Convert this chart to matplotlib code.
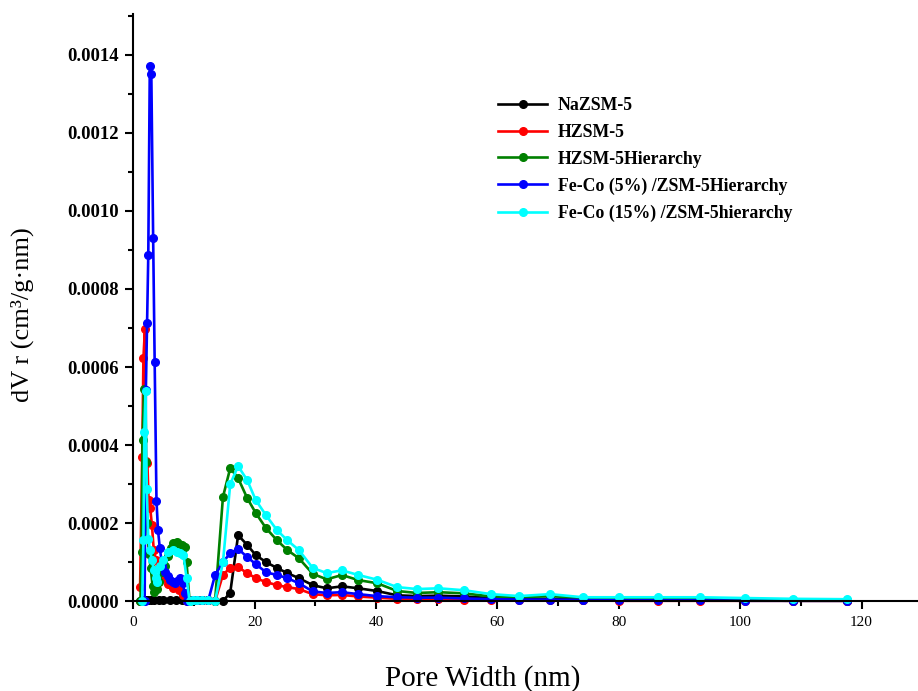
import numpy as np
import matplotlib
matplotlib.use("Agg")
import matplotlib.pyplot as plt
from matplotlib.ticker import MultipleLocator, FormatStrFormatter

plt.rcParams['font.family'] = ['Liberation Serif', 'DejaVu Serif']

# BJH pore size distribution, dV/dr vs pore width (nm)
labels = ['NaZSM-5', 'HZSM-5', 'HZSM-5Hierarchy',
          'Fe-Co (5%) /ZSM-5Hierarchy', 'Fe-Co (15%) /ZSM-5hierarchy']
colors = ['#000000', '#ff0000', '#008000', '#0000ff', '#00ffff']

# shared mesopore grid
meso_x = [13.5, 14.8, 16.0, 17.3, 18.8, 20.2, 21.9, 23.7, 25.4, 27.3, 29.6,
          31.9, 34.4, 37.1, 40.2, 43.5, 46.8, 50.3, 54.5, 59.0, 63.6, 68.7,
          74.1, 80.1, 86.5, 93.4, 100.8, 108.7, 117.6]
gap_x = [9.8, 10.6, 11.4, 12.4]

# micropore part, per sample
na_micro_x = [1.2, 1.5, 1.8, 2.1, 2.5, 3.0, 3.5, 4.2, 5.0, 6.0, 7.0, 8.0, 9.0]
na_micro_y = [0, 4e-6, 4e-6, 4e-6, 4e-6, 4e-6, 4e-6, 4e-6, 4e-6, 4e-6, 4e-6, 4e-6, 2e-6]
na_meso_y = [0, 0, 2.2e-5, 1.69e-4, 1.44e-4, 1.18e-4, 1.0e-4, 8.5e-5, 7.2e-5, 5.9e-5,
             4.1e-5, 3.3e-5, 3.8e-5, 3.3e-5, 2.6e-5, 1.5e-5, 1.3e-5, 1.4e-5, 1.2e-5,
             8e-6, 6e-6, 6e-6, 4e-6, 3e-6, 3e-6, 2e-6, 2e-6, 1e-6, 1e-6]

h_micro_x = [1.15, 1.5, 1.7, 1.95, 2.15, 2.35, 2.55, 2.8, 3.1, 3.4, 3.8, 4.2,
             5.0, 5.8, 6.6, 7.5, 8.3, 8.8]
h_micro_y = [3.7e-5, 3.69e-4, 6.23e-4, 6.97e-4, 3.6e-4, 3.54e-4, 2.6e-4, 2.4e-4,
             1.95e-4, 1.31e-4, 1.05e-4, 8.8e-5, 6.0e-5, 4.5e-5, 3.5e-5, 2.8e-5,
             1.5e-5, 0]
h_meso_y = [0, 6.8e-5, 8.5e-5, 8.7e-5, 7.2e-5, 5.9e-5, 4.9e-5, 4.1e-5, 3.6e-5, 3.1e-5,
            1.8e-5, 1.5e-5, 1.6e-5, 1.2e-5, 9e-6, 6e-6, 5e-6, 5e-6, 4e-6, 3e-6,
            2e-6, 2e-6, 2e-6, 1e-6, 1e-6, 1e-6, 1e-6, 1e-6, 1e-6]

hh_micro_x = [1.2, 1.4, 1.55, 1.8, 2.05, 2.3, 2.6, 2.9, 3.2, 3.5, 3.9, 4.3, 4.8,
              5.3, 5.8, 6.2, 6.6, 7.2, 7.6, 8.0, 8.5, 8.8, 9.3]
hh_micro_y = [0, 1.26e-4, 4.13e-4, 5.43e-4, 3.56e-4, 2.0e-4, 1.2e-4, 8.5e-5, 4e-5,
              2.3e-5, 3e-5, 5e-5, 7.5e-5, 9e-5, 1.15e-4, 1.35e-4, 1.49e-4, 1.52e-4,
              1.47e-4, 1.45e-4, 1.39e-4, 1.0e-4, 0]
hh_meso_y = [0, 2.67e-4, 3.41e-4, 3.15e-4, 2.64e-4, 2.26e-4, 1.87e-4, 1.56e-4, 1.31e-4,
             1.10e-4, 7.0e-5, 5.6e-5, 6.7e-5, 5.4e-5, 4.6e-5, 2.6e-5, 2.1e-5, 2.3e-5,
             2.0e-5, 1.2e-5, 1.0e-5, 1.3e-5, 8e-6, 7e-6, 7e-6, 6e-6, 4e-6, 3e-6, 2e-6]

fc5_micro_x = [1.9, 2.1, 2.3, 2.5, 2.75, 3.0, 3.3, 3.55, 3.85, 4.1, 4.4, 4.8, 5.3,
               5.7, 6.1, 6.5, 6.9, 7.3, 7.7, 8.2, 8.5, 8.9]
fc5_micro_y = [0, 5.4e-4, 7.12e-4, 8.87e-4, 1.372e-3, 1.352e-3, 9.31e-4, 6.14e-4,
               2.57e-4, 1.82e-4, 1.36e-4, 9e-5, 7.5e-5, 6.5e-5, 5.4e-5, 5.0e-5,
               4.6e-5, 5.2e-5, 5.9e-5, 4.6e-5, 2.0e-5, 0]
fc5_meso_y = [6.7e-5, 1.0e-4, 1.23e-4, 1.34e-4, 1.13e-4, 9.5e-5, 7.4e-5, 6.7e-5,
              5.9e-5, 4.6e-5, 2.5e-5, 2.1e-5, 2.3e-5, 1.8e-5, 1.3e-5, 1.0e-5, 9e-6,
              9e-6, 7e-6, 5e-6, 4e-6, 4e-6, 3e-6, 2e-6, 2e-6, 2e-6, 1e-6, 1e-6, 1e-6]

fc15_micro_x = [1.5, 1.7, 1.85, 2.05, 2.25, 2.5, 2.8, 3.1, 3.4, 3.7, 4.0, 4.4, 5.0,
                5.8, 6.6, 7.2, 7.7, 8.3, 8.8, 9.3]
fc15_micro_y = [0, 1.56e-4, 4.34e-4, 5.39e-4, 2.88e-4, 1.6e-4, 1.3e-4, 1.05e-4, 8e-5,
                6e-5, 5e-5, 9e-5, 1.05e-4, 1.26e-4, 1.3e-4, 1.26e-4, 1.23e-4, 1.18e-4,
                6e-5, 0]
fc15_meso_y = [0, 1.0e-4, 3.0e-4, 3.46e-4, 3.1e-4, 2.59e-4, 2.2e-4, 1.82e-4, 1.56e-4,
               1.31e-4, 8.5e-5, 7.2e-5, 7.9e-5, 6.7e-5, 5.5e-5, 3.6e-5, 3.1e-5, 3.3e-5,
               2.8e-5, 1.8e-5, 1.3e-5, 1.8e-5, 1.0e-5, 1.0e-5, 1.0e-5, 1.0e-5, 8e-6,
               6e-6, 5e-6]

gap_y = [3e-6, 3e-6, 3e-6, 3e-6]

series = [
    (na_micro_x, na_micro_y, na_meso_y),
    (h_micro_x, h_micro_y, h_meso_y),
    (hh_micro_x, hh_micro_y, hh_meso_y),
    (fc5_micro_x, fc5_micro_y, fc5_meso_y),
    (fc15_micro_x, fc15_micro_y, fc15_meso_y),
]

fig = plt.figure(figsize=(9.18, 6.91), dpi=100)
ax = fig.add_axes([0.145, 0.130, 0.855, 0.850])

for (mx, my, msy), lab, col in zip(series, labels, colors):
    x = list(mx) + gap_x + meso_x
    y = list(my) + gap_y + msy
    ax.plot(x, y, '-o', color=col, lw=1.9, ms=5.5, label=lab, clip_on=False)

ax.set_xlim(0, 129.3)
ax.set_ylim(0, 0.001505)
ax.xaxis.set_major_locator(MultipleLocator(20))
ax.xaxis.set_minor_locator(MultipleLocator(10))
ax.yaxis.set_major_locator(MultipleLocator(0.0002))
ax.yaxis.set_minor_locator(MultipleLocator(0.0001))
ax.yaxis.set_major_formatter(FormatStrFormatter('%.4f'))

for s in ['top', 'right']:
    ax.spines[s].set_visible(False)
for s in ['left', 'bottom']:
    ax.spines[s].set_linewidth(1.5)

ax.tick_params(which='major', direction='out', length=6, width=1.5)
ax.tick_params(which='minor', direction='out', length=3.5, width=1.5)
ax.tick_params(axis='x', labelsize=11, pad=5)
ax.tick_params(axis='y', labelsize=13.5, pad=4)
for t in ax.get_yticklabels():
    t.set_fontweight('bold')

fig.text(483 / 918, 1 - 679 / 691, 'Pore Width (nm)', ha='center', va='center', fontsize=21)
fig.text(22 / 918, 1 - 315 / 691, 'dV r (cm³/g·nm)', ha='center', va='center',
         rotation=90, fontsize=19)

ax.legend(loc='upper left', bbox_to_anchor=(491 / 918, 1 - 90 / 691),
          bbox_transform=fig.transFigure, frameon=False, handlelength=2.75,
          handletextpad=0.6, labelspacing=0.55,
          prop={'weight': 'bold', 'size': 12.8}, borderaxespad=0)

fig.savefig('out.png', dpi=100)
